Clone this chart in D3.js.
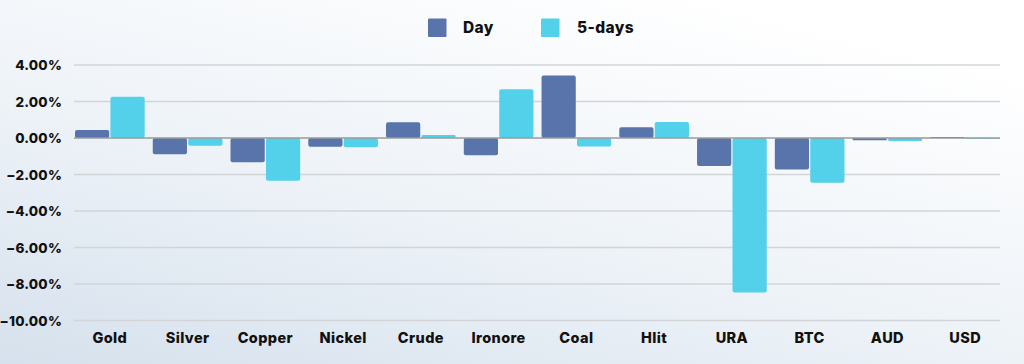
<!DOCTYPE html>
<html>
<head>
<meta charset="utf-8">
<script src="https://cdn.jsdelivr.net/npm/d3@7/dist/d3.min.js"></script>
<style>
  html, body { margin: 0; padding: 0; }
  body { width: 1024px; height: 364px; overflow: hidden; }
  svg { display: block; font-family: Inter, "DejaVu Sans", sans-serif; }
</style>
</head>
<body>
<svg id="chart" width="1024" height="364"></svg>
<script>
const categories = ["Gold", "Silver", "Copper", "Nickel", "Crude", "Ironore", "Coal", "Hlit", "URA", "BTC", "AUD", "USD"];
const seriesNames = ["Day", "5-days"];
const dayValues = [0.44, -0.89, -1.33, -0.48, 0.86, -0.95, 3.42, 0.59, -1.53, -1.72, -0.13, 0.06];
const fiveDayValues = [2.26, -0.42, -2.34, -0.51, 0.16, 2.67, -0.46, 0.88, -8.46, -2.45, -0.16, -0.02];
const yTicks = [4, 2, 0, -2, -4, -6, -8, -10];
const colors = ["#5874ab", "#53d0ea"];

const series = [dayValues, fiveDayValues];
const svg = d3.select("#chart");

// background gradient
const defs = svg.append("defs");
const grad = defs.append("linearGradient").attr("id", "bg")
  .attr("x1", "0").attr("y1", "1").attr("x2", "0.7").attr("y2", "0");
grad.append("stop").attr("offset", "0").attr("stop-color", "#d6e1ed");
grad.append("stop").attr("offset", "0.5").attr("stop-color", "#eef3f8");
grad.append("stop").attr("offset", "1").attr("stop-color", "#ffffff");
svg.append("rect").attr("width", 1024).attr("height", 364).attr("fill", "url(#bg)");

const plotLeft = 74, plotRight = 1000;
const y = d3.scaleLinear().domain([-10, 4]).range([320.5, 65]);
const x0 = d3.scaleBand().domain(categories).range([75, 1000])
  .paddingInner(0.104).paddingOuter(0).align(0);
const x1 = d3.scaleBand().domain(seriesNames).range([0, x0.bandwidth()]).paddingInner(0.035);

// gridlines
svg.append("g").selectAll("line").data(yTicks.filter(t => t !== 0)).join("line")
  .attr("x1", plotLeft).attr("x2", plotRight)
  .attr("y1", d => y(d)).attr("y2", d => y(d))
  .attr("stroke", "#d2d4d8").attr("stroke-width", 1.3);

// y axis labels
const yAxis = d3.axisLeft(y).tickValues(yTicks).tickSize(0).tickPadding(0)
  .tickFormat(d => d3.format(".2f")(d) + "%");
const ya = svg.append("g").attr("transform", "translate(62,0)").call(yAxis);
ya.select(".domain").remove();
ya.selectAll("text").attr("font-size", 13.5).attr("font-weight", 800).attr("fill", "#111")
  .attr("font-family", "Inter, sans-serif").attr("letter-spacing", 0.2).attr("dy", "0.35em");

// bars
const groups = svg.append("g").selectAll("g").data(categories).join("g")
  .attr("transform", d => `translate(${x0(d)},0)`);
groups.selectAll("path").data((c, i) => seriesNames.map((s, k) => ({ s, v: series[k][i], k })))
  .join("path")
  .attr("fill", d => colors[d.k])
  .attr("d", d => {
    const xL = x1(d.s), w = x1.bandwidth();
    const y0 = y(0), yv = y(d.v);
    const top = Math.min(y0, yv), h = Math.max(Math.abs(yv - y0), 0.8);
    const r = Math.min(2, h / 2);
    return `M${xL + r},${top} h${w - 2 * r} a${r},${r} 0 0 1 ${r},${r} v${h - 2 * r} a${r},${r} 0 0 1 ${-r},${r} h${-(w - 2 * r)} a${r},${r} 0 0 1 ${-r},${-r} v${-(h - 2 * r)} a${r},${r} 0 0 1 ${r},${-r}z`;
  });

// zero line
svg.append("line").attr("x1", plotLeft).attr("x2", plotRight)
  .attr("y1", y(0)).attr("y2", y(0)).attr("stroke", "#9a9a9a").attr("stroke-width", 1.3);

// x axis labels
const xAxis = d3.axisBottom(x0).tickSize(0).tickPadding(0);
const xa = svg.append("g").attr("transform", "translate(0,338)").call(xAxis);
xa.select(".domain").remove();
xa.selectAll(".tick").attr("transform", d => `translate(${x0(d) + x0.bandwidth() / 2},0)`);
xa.selectAll("text").attr("font-size", 14.5).attr("font-weight", 800).attr("fill", "#111")
  .attr("font-family", "Inter, sans-serif").attr("letter-spacing", 0.4).attr("dy", "0.35em").attr("y", 0);

// legend
const legendItems = [
  { name: "Day", color: colors[0], sx: 428, tx: 463 },
  { name: "5-days", color: colors[1], sx: 541, tx: 577 }
];
const lg = svg.append("g");
lg.selectAll("rect").data(legendItems).join("rect")
  .attr("x", d => d.sx).attr("y", 18.5).attr("width", 18.5).attr("height", 18.5)
  .attr("rx", 1).attr("fill", d => d.color);
lg.selectAll("text").data(legendItems).join("text")
  .attr("x", d => d.tx).attr("y", 27.5).attr("dy", "0.35em")
  .attr("font-size", 15.5).attr("font-weight", 800).attr("fill", "#111")
  .attr("letter-spacing", 0.4)
  .attr("font-family", "Inter, sans-serif")
  .text(d => d.name);
</script>
</body>
</html>
